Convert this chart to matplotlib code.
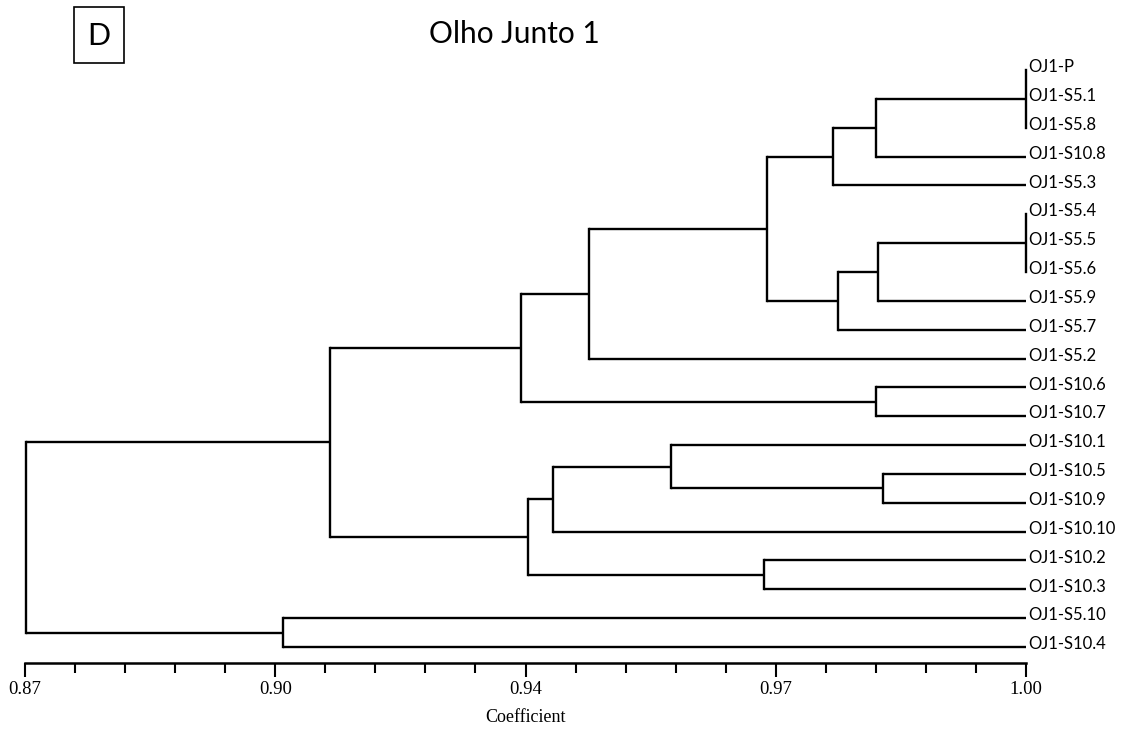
#!/usr/bin/env python
"""UPGMA dendrogram (NTSYS style) for the Olho Junto 1 isolates."""

import matplotlib
matplotlib.use('Agg')
import matplotlib.pyplot as plt
from matplotlib.patches import Rectangle
from matplotlib.ticker import FixedLocator

# leaves, top to bottom
leaves = ['OJ1-P', 'OJ1-S5.1', 'OJ1-S5.8', 'OJ1-S10.8', 'OJ1-S5.3',
          'OJ1-S5.4', 'OJ1-S5.5', 'OJ1-S5.6', 'OJ1-S5.9', 'OJ1-S5.7',
          'OJ1-S5.2', 'OJ1-S10.6', 'OJ1-S10.7', 'OJ1-S10.1', 'OJ1-S10.5',
          'OJ1-S10.9', 'OJ1-S10.10', 'OJ1-S10.2', 'OJ1-S10.3',
          'OJ1-S5.10', 'OJ1-S10.4']

# merges: node name, children, similarity coefficient
node_names = ['n1', 'n2', 'n3', 'n4', 'n5', 'n6', 'n7', 'n8', 'n9',
              'n10', 'n11', 'n12', 'n13', 'n14', 'n15', 'n16', 'n17', 'root']
node_children = [['OJ1-P', 'OJ1-S5.1', 'OJ1-S5.8'],
                 ['n1', 'OJ1-S10.8'],
                 ['n2', 'OJ1-S5.3'],
                 ['OJ1-S5.4', 'OJ1-S5.5', 'OJ1-S5.6'],
                 ['n4', 'OJ1-S5.9'],
                 ['n5', 'OJ1-S5.7'],
                 ['n3', 'n6'],
                 ['n7', 'OJ1-S5.2'],
                 ['OJ1-S10.6', 'OJ1-S10.7'],
                 ['n8', 'n9'],
                 ['OJ1-S10.5', 'OJ1-S10.9'],
                 ['OJ1-S10.1', 'n11'],
                 ['n12', 'OJ1-S10.10'],
                 ['OJ1-S10.2', 'OJ1-S10.3'],
                 ['n13', 'n14'],
                 ['n10', 'n15'],
                 ['OJ1-S5.10', 'OJ1-S10.4'],
                 ['n16', 'n17']]
node_coef = [1.000, 0.9805, 0.9749, 1.000, 0.9808, 0.9756, 0.9664,
             0.9432, 0.9805, 0.9344, 0.9814, 0.9539, 0.9386, 0.9660,
             0.9353, 0.9096, 0.9035, 0.8701]

# axis
xmin, xmax = 0.87, 1.00
major_ticks = [0.87, 0.9025, 0.935, 0.9675, 1.00]
major_labels = ['0.87', '0.90', '0.94', '0.97', '1.00']
minor_step = 0.0065


def main():
    W, H = 1141, 729
    fig = plt.figure(figsize=(W / 100, H / 100), dpi=100)
    # x: 0.87 -> px 25, 1.00 -> px 1026 ; leaves from px 70 to px 647
    ax = fig.add_axes([25 / W, 1 - 647 / H, 1001 / W, (647 - 70) / H])
    ax.set_xlim(xmin, xmax)
    ax.set_ylim(len(leaves) - 1, 0)

    pos = {name: (1.0, float(i)) for i, name in enumerate(leaves)}
    lw = 1.7
    for name, kids, c in zip(node_names, node_children, node_coef):
        ys = [pos[k][1] for k in kids]
        for k in kids:
            kx, ky = pos[k]
            ax.plot([c, kx], [ky, ky], color='black', lw=lw,
                    solid_capstyle='butt', clip_on=False)
        ax.plot([c, c], [min(ys), max(ys)], color='black', lw=lw,
                solid_capstyle='projecting', clip_on=False)
        pos[name] = (c, sum(ys) / len(ys))

    for i, name in enumerate(leaves):
        ax.annotate(name, (1.0, i), xytext=(1.5, 2), textcoords='offset points',
                    ha='left', va='center', fontsize=12, family='Lato',
                    annotation_clip=False)

    for s in ['top', 'right', 'left']:
        ax.spines[s].set_visible(False)
    ax.spines['bottom'].set_position(('outward', 11.5))
    ax.spines['bottom'].set_linewidth(1.8)
    ax.set_yticks([])
    ax.xaxis.set_major_locator(FixedLocator(major_ticks))
    ax.set_xticklabels(major_labels, family='Liberation Serif', fontsize=13.5)
    n_minor = int(round((xmax - xmin) / minor_step))
    ax.xaxis.set_minor_locator(FixedLocator(
        [xmin + k * minor_step for k in range(n_minor + 1)]))
    ax.tick_params(axis='x', which='major', length=10, width=1.5, pad=3)
    ax.tick_params(axis='x', which='minor', length=7, width=1.5)

    fig.text(525 / W, 1 - 717 / H, 'Coefficient', ha='center', va='center',
             family='Liberation Serif', fontsize=13)

    # title and panel letter
    fig.text(429 / W, 1 - 34 / H, 'Olho Junto 1', ha='left', va='center',
             family='Lato', fontsize=21.5)
    fig.patches.append(Rectangle((74 / W, 1 - 63 / H), 50 / W, 56 / H,
                                 transform=fig.transFigure, fill=False,
                                 edgecolor='black', lw=1.2))
    fig.text(99 / W, 1 - 36 / H, 'D', ha='center', va='center',
             family='Lato', fontsize=22)

    fig.savefig('out.png', dpi=100, facecolor='white')


if __name__ == '__main__':
    main()
